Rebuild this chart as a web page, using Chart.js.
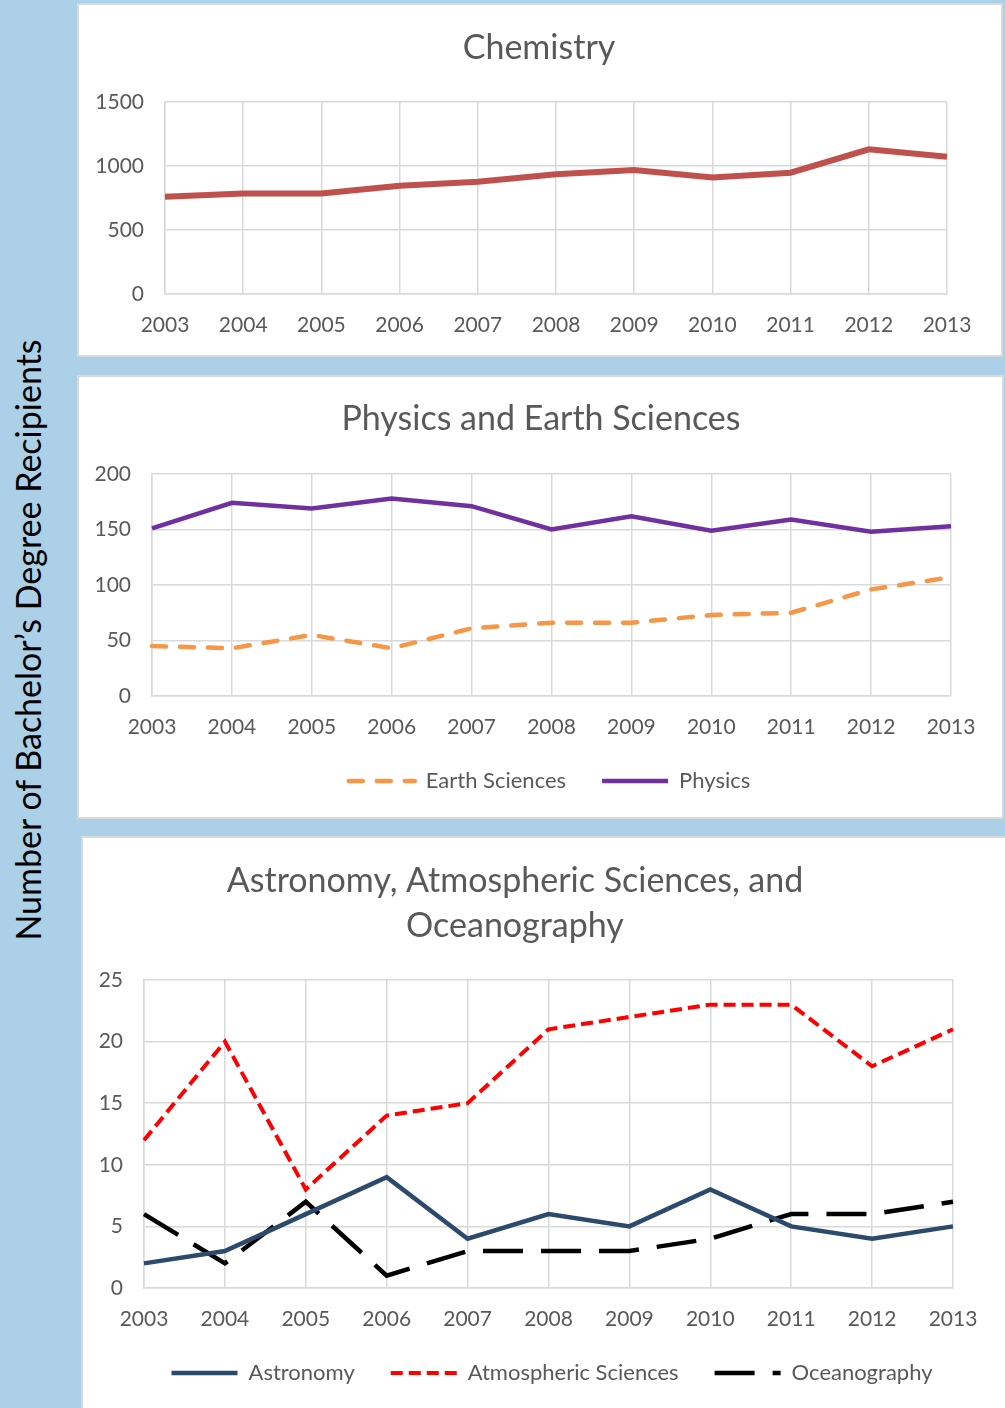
<!DOCTYPE html>
<html>
<head>
<meta charset="utf-8">
<script src="https://cdn.jsdelivr.net/npm/chart.js@4.4.1/dist/chart.umd.min.js"></script>
<style>
  html, body { margin: 0; padding: 0; }
  body { width: 1005px; height: 1408px; background: #abd0e7; position: relative; overflow: hidden; font-family: Lato, "Open Sans", sans-serif; }
  .panel { position: absolute; background: #fff; border: 2px solid #d9d9d9; box-sizing: border-box; }
  .box { position: absolute; }
  #ylabel {
    position: absolute; left: 27px; top: 640px; white-space: nowrap;
    transform: translate(-50%, -50%) rotate(-90deg);
    font-size: 34px; color: #000;
  }
</style>
</head>
<body>
<div id="ylabel">Number of Bachelor’s Degree Recipients</div>
<div class="panel" style="left:77px;top:3px;width:926px;height:354px"></div>
<div class="panel" style="left:77px;top:375px;width:927px;height:444px"></div>
<div class="panel" style="left:81px;top:836px;width:926px;height:580px"></div>

<div class="box" style="left:78px;top:4px;width:924px;height:351px"><canvas id="chartChem"></canvas></div>
<div class="box" style="left:78px;top:376px;width:925px;height:442px"><canvas id="chartPhys"></canvas></div>
<div class="box" style="left:81px;top:837px;width:924px;height:571px"><canvas id="chartAstro"></canvas></div>

<script>
const years = ["2003", "2004", "2005", "2006", "2007", "2008", "2009", "2010", "2011", "2012", "2013"];

const chemistry = [760, 786, 786, 846, 877, 935, 969, 911, 948, 1130, 1073];

const physics = [151, 174, 169, 178, 171, 150, 162, 149, 159, 148, 153];
const earthSciences = [45, 43, 55, 43, 61, 66, 66, 73, 75, 96, 107];

const astronomy = [2, 3, 6, 9, 4, 6, 5, 8, 5, 4, 5];
const atmospheric = [12, 20, 8, 14, 15, 21, 22, 23, 23, 18, 21];
const oceanography = [6, 2, 7, 1, 3, 3, 3, 4, 6, 6, 7];

const font = "Lato, 'Open Sans', sans-serif";
const textColor = "#595959";
const gridColor = "#d9d9d9";

// the titles are not centred on the canvas, so they are drawn here
const panelTitle = {
    id: "panelTitle",
    afterDraw(chart, args, opts) {
    const ctx = chart.ctx;
    ctx.save();
    ctx.font = "34px " + font;
    ctx.fillStyle = textColor;
    ctx.textAlign = "center";
    ctx.textBaseline = "middle";
    opts.lines.forEach((t, i) => ctx.fillText(t, opts.x, opts.y + i * 45));
    ctx.restore();
    },
};

// nudge the legend sideways like in the original
const legendShift = {
    id: "legendShift",
    afterLayout(chart, args, opts) {
    if (chart.legend) {
        chart.legend.left += opts.dx;
        chart.legend.right += opts.dx;
    }
    },
};

function scales(max, step, yWidth, xHeight) {
    return {
    x: {
        grid: { color: gridColor, lineWidth: 1.5, drawTicks: false },
        border: { color: gridColor, width: 1.5 },
        ticks: { color: textColor, font: { family: font, size: 21 }, padding: 19, maxRotation: 0, autoSkip: false },
        afterFit: (s) => { s.height = xHeight; },
    },
    y: {
        min: 0,
        max: max,
        grid: { color: gridColor, lineWidth: 1.5, drawTicks: false },
        border: { color: gridColor, width: 1.5 },
        ticks: { stepSize: step, color: textColor, font: { family: font, size: 21 }, padding: 21, callback: (v) => String(v) },
        afterFit: (s) => { s.width = yWidth; },
    },
    };
}

// legend line samples keep the dataset dash pattern
function dashedLabels(chart) {
    const items = Chart.defaults.plugins.legend.labels.generateLabels(chart);
    items.forEach((item) => {
    const ds = chart.data.datasets[item.datasetIndex];
    item.lineDash = ds.borderDash || [];
    item.lineWidth = ds.borderWidth;
    item.lineCap = ds.borderCapStyle || "butt";
    item.strokeStyle = ds.borderColor;
    });
    return items;
}

function legend(show) {
    return {
    display: show,
    position: "bottom",
    labels: {
        color: textColor,
        font: { family: font, size: 22 },
        usePointStyle: true,
        pointStyle: "line",
        pointStyleWidth: 66,
        padding: 36,
        generateLabels: dashedLabels,
    },
    };
}

new Chart("chartChem", {
    type: "line",
    data: {
    labels: years,
    datasets: [
        { label: "Chemistry", data: chemistry, borderColor: "#c0504d", borderWidth: 6, pointRadius: 0 },
    ],
    },
    options: {
    responsive: true,
    maintainAspectRatio: false,
    animation: false,
    layout: { padding: { left: 0, right: 55, top: 98, bottom: 0 } },
    scales: scales(1500, 500, 87, 61),
    plugins: {
        legend: legend(false),
        panelTitle: { lines: ["Chemistry"], x: 461, y: 44 },
        tooltip: { enabled: false },
    },
    },
    plugins: [panelTitle],
});

new Chart("chartPhys", {
    type: "line",
    data: {
    labels: years,
    datasets: [
        { label: "Earth Sciences", data: earthSciences, borderColor: "#f79646", borderWidth: 4.5, borderDash: [14, 14], borderCapStyle: "round", pointRadius: 0 },
        { label: "Physics", data: physics, borderColor: "#7030a0", borderWidth: 4.5, pointRadius: 0 },
    ],
    },
    options: {
    responsive: true,
    maintainAspectRatio: false,
    animation: false,
    layout: { padding: { left: 0, right: 52, top: 98, bottom: 16 } },
    scales: scales(200, 50, 74, 38),
    plugins: {
        legend: legend(true),
        legendShift: { dx: 35 },
        panelTitle: { lines: ["Physics and Earth Sciences"], x: 463, y: 43 },
        tooltip: { enabled: false },
    },
    },
    plugins: [panelTitle, legendShift],
});

new Chart("chartAstro", {
    type: "line",
    data: {
    labels: years,
    datasets: [
        { label: "Astronomy", data: astronomy, borderColor: "#2c4a6c", borderWidth: 4.5, pointRadius: 0 },
        { label: "Atmospheric Sciences", data: atmospheric, borderColor: "#ff0000", borderWidth: 4, borderDash: [12, 6], pointRadius: 0 },
        { label: "Oceanography", data: oceanography, borderColor: "#000000", borderWidth: 4.5, borderDash: [40, 18], pointRadius: 0 },
    ],
    },
    options: {
    responsive: true,
    maintainAspectRatio: false,
    animation: false,
    layout: { padding: { left: 0, right: 52, top: 143, bottom: 14 } },
    scales: scales(25, 5, 63, 38),
    plugins: {
        legend: legend(true),
        legendShift: { dx: 35 },
        panelTitle: { lines: ["Astronomy, Atmospheric Sciences, and", "Oceanography"], x: 434, y: 44 },
        tooltip: { enabled: false },
    },
    },
    plugins: [panelTitle, legendShift],
});
</script>
</body>
</html>
